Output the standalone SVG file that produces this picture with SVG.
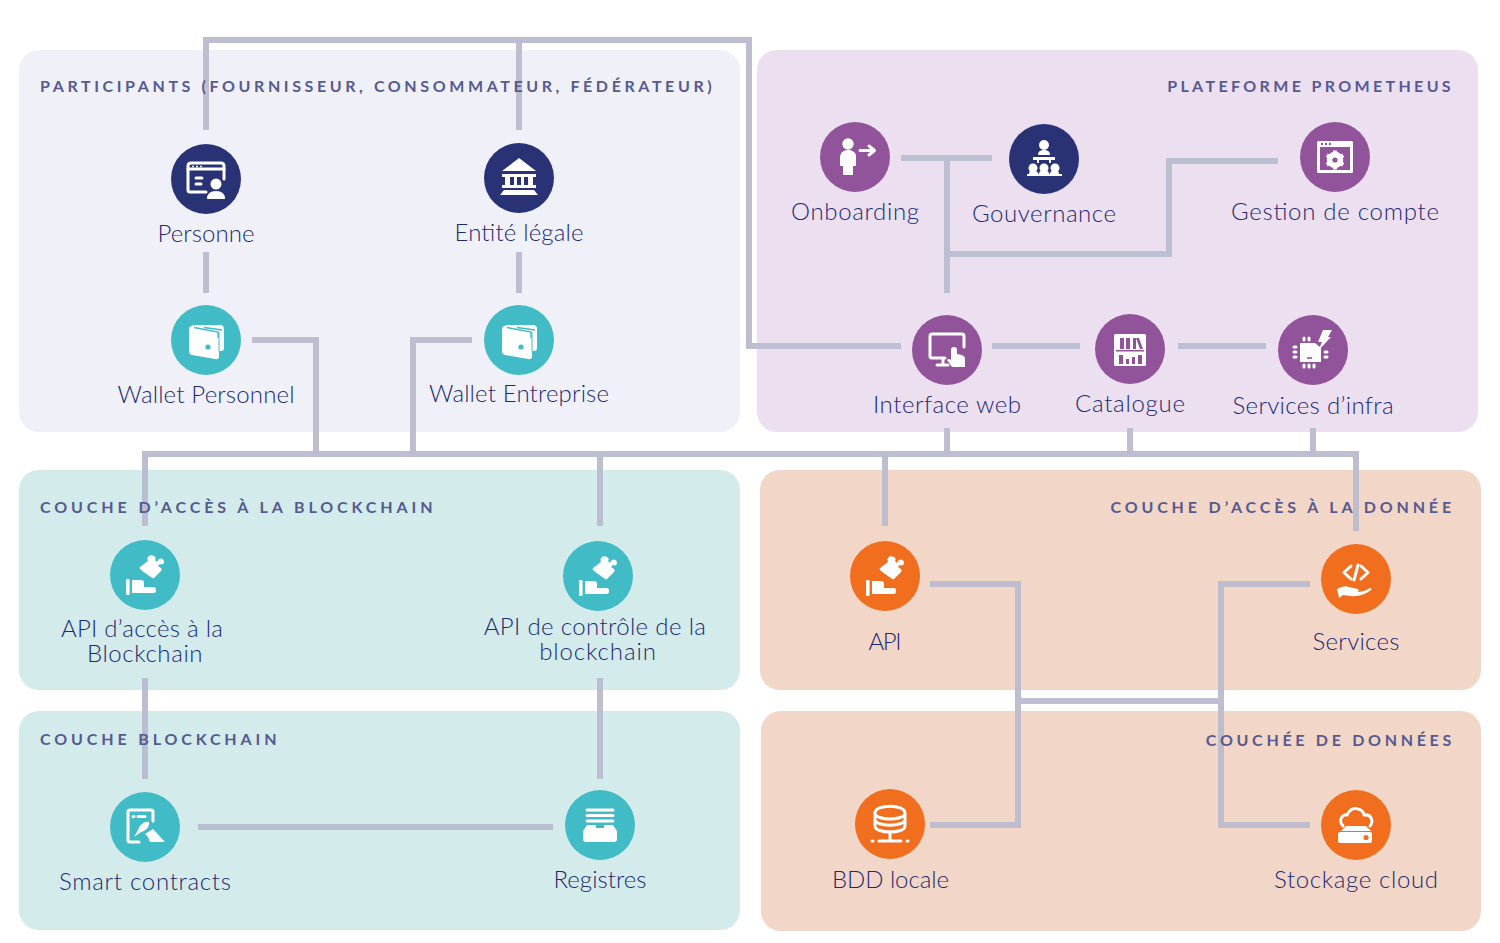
<svg xmlns="http://www.w3.org/2000/svg" width="1500" height="943" viewBox="0 0 1500 943">
<style>
.lb{font-family:"Lato","Liberation Sans",sans-serif;font-weight:300;font-size:24px;fill:#1e2a72;text-anchor:middle}
.hd{font-family:"Lato","Liberation Sans",sans-serif;font-weight:700;font-size:16px;fill:#565a90}
.e{text-anchor:end}
.cn{fill:none;stroke:#b9bccf;stroke-width:6;stroke-opacity:.95;stroke-linejoin:miter}
.w{fill:#fff}
.s{fill:none;stroke:#fff;stroke-width:3;stroke-linecap:round;stroke-linejoin:round}
.navy{fill:#283275}.teal{fill:#41bbc5}.pur{fill:#915399}.or{fill:#f06e1e}
</style>
<defs>
<g id="i-puzzle">
<path class="w" d="M-5,-8L3,-14C1,-18 5,-21 9,-19C11,-18 11,-16 10,-15L12,-13C14,-18 19,-17 19,-13C19,-11 17,-10 15,-11L13,-9C15,-8 18,-6 16,-4L9,3C8,4 7,3 6,2C3,0 -3,-4 -5,-6Q-6,-7 -5,-8Z"/>
<rect class="w" x="-19" y="4" width="3.600" height="16" rx="1.200"/>
<path class="w" d="M-13,5H-4Q-1,5 -1,8V12H9Q11,12 11,15Q11,18 9,18H-13Z"/>
</g>
<g id="i-wallet">
<path class="w" d="M-12,-15H14Q18,-15 18,-11V8Q18,11 15,11H13V16Q13,20 9,19L-14,15Q-17,14 -17,11V-11Q-17,-14 -12,-15Z"/>
<path d="M-12,-12.500L12,-8V-2M-2,-12.500L16,-10" fill="none" stroke="#41bbc5" stroke-width="1.400"/>
<path d="M13,-8V11" fill="none" stroke="#41bbc5" stroke-width="1"/>
<circle cx="2" cy="7" r="2.600" fill="#41bbc5"/>
</g>
</defs>
<g id="panels">
<rect x="19" y="50" width="721" height="382" rx="20" fill="#f0f1f8"/>
<rect x="757" y="50" width="721" height="382" rx="20" fill="#ecdff0"/>
<rect x="19" y="470" width="721" height="220" rx="20" fill="#d3ebeb"/>
<rect x="760" y="470" width="721" height="220" rx="20" fill="#f2d6c8"/>
<rect x="19" y="711" width="721" height="219" rx="20" fill="#d3ebeb"/>
<rect x="761" y="711" width="720" height="220" rx="20" fill="#f2d6c8"/>
</g>
<g id="connectors" class="cn">
<path d="M206,130V40H749V346H901"/>
<path d="M519,40V130"/>
<path d="M206,252V293M519,252V293"/>
<path d="M252,340H316V454M472,340H413V454"/>
<path d="M145,526V454H1356V531"/>
<path d="M600,454V526M885,454V526M947,428V454M1130,428V454M1313,428V454"/>
<path d="M901,158H992M947,158V293"/>
<path d="M947,254H1169V161H1278"/>
<path d="M992,346H1080M1178,346H1266"/>
<path d="M145,678V779M600,678V779M198,827H553"/>
<path d="M930,584H1018V825H930M1310,584H1221V825H1310M1018,701H1221"/>
</g>
<g id="headers">
<text class="hd" x="40" y="92" style="letter-spacing:3.6px">PARTICIPANTS (FOURNISSEUR, CONSOMMATEUR, FÉDÉRATEUR)</text>
<text class="hd e" x="1454" y="92" style="letter-spacing:3.35px">PLATEFORME PROMETHEUS</text>
<text class="hd" x="40" y="513" style="letter-spacing:3.9px">COUCHE D’ACCÈS À LA BLOCKCHAIN</text>
<text class="hd e" x="1455" y="513" style="letter-spacing:3.86px">COUCHE D’ACCÈS À LA DONNÉE</text>
<text class="hd" x="40" y="745" style="letter-spacing:3.87px">COUCHE BLOCKCHAIN</text>
<text class="hd e" x="1455" y="746" style="letter-spacing:3.7px">COUCHÉE DE DONNÉES</text>
</g>
<g id="personne" transform="translate(206,179)">
<circle r="35" class="navy"/>
<path class="s" d="M18,0V-13Q18,-16 15,-16H-15Q-18,-16 -18,-13V11Q-18,13 -16,13H0" stroke-width="2.600"/>
<path class="s" d="M-18,-10H18" stroke-width="2"/>
<path class="s" d="M-10,-1H-4M-10,5H-5" stroke-width="2"/>
<circle cx="-13" cy="-12.500" r="1" class="w"/><circle cx="-9" cy="-12.500" r="1" class="w"/><circle cx="-5" cy="-12.500" r="1" class="w"/>
<circle cx="10" cy="5" r="5.500" class="w"/>
<path class="w" d="M1,20Q1,12 10,12Q19,12 19,20Z"/>
<text class="lb" x="0" y="63" textLength="97">Personne</text>
</g>
<g id="entite" transform="translate(519,178)">
<circle r="35" class="navy"/>
<path class="w" d="M0,-20L17,-7H-17Z"/>
<path class="w" d="M-17,-4H17V-1H14V7H17V10H-17V7H-14V-1H-17ZM-9,-1V7H-5V-1ZM-2,-1V7H2V-1ZM5,-1V7H9V-1Z" fill-rule="evenodd"/>
<path class="w" d="M-15,12H15L19,17H-19Z"/>
<text class="lb" x="0" y="63" textLength="129">Entité légale</text>
</g>
<g id="wallet-personnel" transform="translate(206,340)">
<circle r="35" class="teal"/><use href="#i-wallet"/>
<text class="lb" x="0" y="63" textLength="177">Wallet Personnel</text>
</g>
<g id="wallet-entreprise" transform="translate(519,340)">
<circle r="35" class="teal"/><use href="#i-wallet"/>
<text class="lb" x="0" y="62" textLength="180">Wallet Entreprise</text>
</g>
<g id="onboarding" transform="translate(855,157)">
<circle r="35" class="pur"/>
<circle cx="-7" cy="-13" r="5.700" class="w"/>
<path class="w" d="M-7,-7C-13,-7 -15,-3 -15,1V9H-12V18H-2V9H1V-2C0,-5 -3,-7 -7,-7Z"/>
<path class="s" d="M5,-6.500H19M14,-11L19.500,-6.500L14,-2" stroke-width="4"/>
<text class="lb" x="0" y="63" textLength="128">Onboarding</text>
</g>
<g id="gouvernance" transform="translate(1044,159)">
<circle r="35" class="navy"/>
<circle cy="-14" r="5" class="w"/>
<path class="w" d="M-6,-4Q-6,-9 0,-9Q6,-9 6,-4ZM-11,-2H11V1H7V4H5V1H-5V4H-7V1H-11Z"/>
<circle cx="-11" cy="9" r="4.500" class="w"/><circle cy="9" r="4.500" class="w"/><circle cx="11" cy="9" r="4.500" class="w"/>
<path class="w" d="M-15,15Q-15,11 -11,12Q-7,11 -5.500,15H-5Q-5,11 0,12Q5,11 5,15H5.500Q7,11 11,12Q15,11 15,15H18L18,17H-17V15Z"/>
<text class="lb" x="0" y="63" textLength="144">Gouvernance</text>
</g>
<g id="gestion" transform="translate(1335,157)">
<circle r="35" class="pur"/>
<rect x="-18" y="-16" width="36" height="32" rx="1.500" class="w"/>
<rect x="-15" y="-10" width="30" height="23" fill="#915399"/>
<circle cx="-13" cy="-13" r="1.200" fill="#915399"/><circle cx="-9" cy="-13" r="1.200" fill="#915399"/><circle cx="-5" cy="-13" r="1.200" fill="#915399"/>
<circle cy="3" r="6" fill="none" stroke="#fff" stroke-width="4.500"/>
<path d="M0,-6.500V12.500M-8.200,-1.700L8.200,7.700M-8.200,7.700L8.200,-1.700" stroke="#fff" stroke-width="4"/>
<circle cy="3" r="2.600" fill="#915399"/>
<text class="lb" x="0" y="63" textLength="208">Gestion de compte</text>
</g>
<g id="interface-web" transform="translate(947,350)">
<circle r="35" class="pur"/>
<path class="s" d="M-2,8H-15Q-17,8 -17,6V-14Q-17,-16 -15,-16H15Q17,-16 17,-14V-3"/>
<path class="s" d="M-4,9V14M-10,15H1"/>
<path class="w" d="M7,-3Q10,-3 10,0V4L15,5Q18,6 18,9V17H5L0,10Q1,8 4,10V0Q4,-3 7,-3Z"/>
<text class="lb" x="0" y="63" textLength="148">Interface web</text>
</g>
<g id="catalogue" transform="translate(1130,349)">
<circle r="35" class="pur"/>
<rect x="-16" y="-15" width="32" height="32" rx="1.500" class="w"/>
<path d="M-10,-11H-6V0H-10ZM-4,-11H0V0H-4ZM3,-11H6V0H3ZM9,-11L13,0H10L6,-11ZM-14,1H14V2.500H-14ZM-11,6H-7V15H-11ZM-4,10H-1V15H-4ZM2,8H5V15H2ZM8,6H12V15H8Z" fill="#915399"/>
<text class="lb" x="0" y="63" textLength="110">Catalogue</text>
</g>
<g id="services-infra" transform="translate(1313,350)">
<circle r="35" class="pur"/>
<path class="w" d="M-13,-7H2L8,-2V12H-13Z"/>
<path d="M-6,8H-1" stroke="#915399" stroke-width="1.600"/>
<path class="s" d="M-9,-12V-10M-4,-12V-10M-9,15V17M-4,15V17M1,15V17M-19,-3H-17M-19,2H-17M-19,7H-17M12,2H14M12,7H14" stroke-width="2"/>
<path class="w" d="M10,-20L19,-20L15,-13H18L5,1L9,-8H5Z"/>
<text class="lb" x="0" y="64" textLength="161">Services d’infra</text>
</g>
<g id="api-acces" transform="translate(145,575)">
<circle r="35" class="teal"/><use href="#i-puzzle"/>
<text class="lb"><tspan x="-3" y="62" style="letter-spacing:.27px">API d’accès à la</tspan><tspan x="0" y="87" style="letter-spacing:.6px">Blockchain</tspan></text>
</g>
<g id="api-controle" transform="translate(598,576)">
<circle r="35" class="teal"/><use href="#i-puzzle"/>
<text class="lb"><tspan x="-3" y="59" style="letter-spacing:.36px">API de contrôle de la</tspan><tspan x="0" y="84" style="letter-spacing:.9px">blockchain</tspan></text>
</g>
<g id="api" transform="translate(885,576)">
<circle r="35" class="or"/><use href="#i-puzzle"/>
<text class="lb" x="0" y="74" textLength="33">API</text>
</g>
<g id="services" transform="translate(1356,579)">
<circle r="35" class="or"/>
<path class="s" d="M-5,-13L-12,-6.500L-5,0M5,-13L12,-6.500L5,0M2,-14L-2,1" stroke-width="3.400"/>
<path class="w" d="M-19,10Q-12,6 -7,8L2,10Q4,12 1,13Q8,13 14,9Q16,9 15,11Q6,18 -5,17L-13,16L-17,19Z"/>
<text class="lb" x="0" y="71" textLength="87">Services</text>
</g>
<g id="smart-contracts" transform="translate(145,827)">
<circle r="35" class="teal"/>
<path class="s" d="M-6,15H-15Q-17,15 -17,13V-15Q-17,-17 -15,-17H6Q8,-17 8,-15V-6"/>
<path class="s" d="M-12,-10.500H-11M-7,-10.500H0" stroke-width="2"/>
<path class="w" d="M-11,10L-7,3C-5,-3 0,-6 4,-5C5,-1 1,4 -4,5Z"/>
<path class="w" d="M0,7L8,2L20,15H5L3,10Z"/>
<text class="lb" x="0" y="63" textLength="172">Smart contracts</text>
</g>
<g id="registres" transform="translate(600,825)">
<circle r="35" class="teal"/>
<path class="s" d="M-13,-15H13M-13,-9.500H13M-13,-4H13" stroke-width="2.400"/>
<path class="w" d="M-13,0H-4V3H4V0H13L17,6V14Q17,17 14,17H-14Q-17,17 -17,14V6Z"/>
<text class="lb" x="0" y="63" textLength="93">Registres</text>
</g>
<g id="bdd-locale" transform="translate(890,824)">
<circle r="35" class="or"/>
<path class="s" d="M-15,-11C-15,-20 15,-20 15,-11C15,-3 -15,-3 -15,-11V2C-15,10 15,10 15,2V-11M-15,-4.500C-15,3 15,3 15,-4.500"/>
<path class="s" d="M0,8V17M-11,17H11M-18,17H-17M17,17H18"/>
<text class="lb" x="0.500" y="64" textLength="117">BDD locale</text>
</g>
<g id="stockage-cloud" transform="translate(1356,825)">
<circle r="35" class="or"/>
<path class="s" d="M-13,1Q-18,-5 -13,-9Q-11,-11 -9,-10Q-5,-18 2,-16Q7,-15 8,-10Q15,-11 16,-4Q16,-1 14,1"/>
<path class="w" d="M-10,1H10L15,6H-15Z"/>
<rect x="-18" y="7" width="34" height="11" rx="2" class="w"/>
<circle cx="10" cy="12.500" r="2.600" fill="#f06e1e"/>
<text class="lb" x="0" y="63" textLength="164">Stockage cloud</text>
</g>
</svg>
